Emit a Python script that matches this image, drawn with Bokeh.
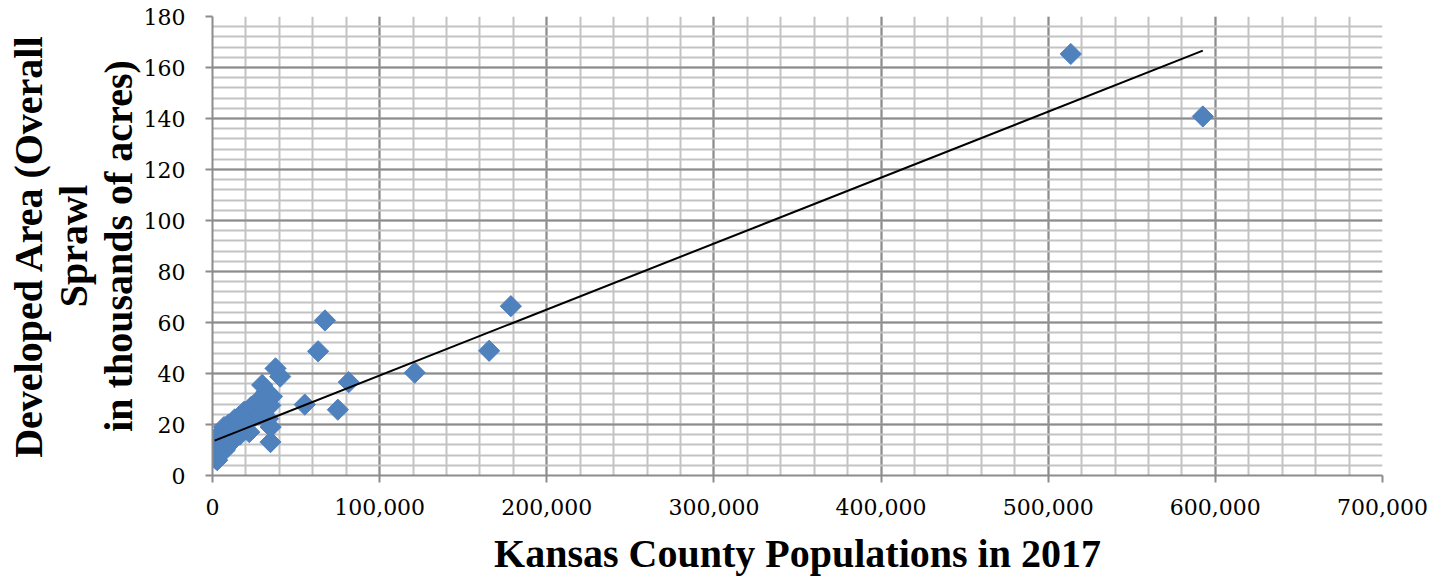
import numpy as np
from bokeh.plotting import figure
from bokeh.models import (Range1d, SingleIntervalTicker, NumeralTickFormatter,
                          ColumnDataSource)
from bokeh.embed import file_html
from bokeh.resources import INLINE

# Kansas counties: 2017 population and developed area (thousands of acres)
counties = [
    "Greeley", "Wallace", "Lane", "Comanche", "Hodgeman", "Clark", "Stanton", "Wichita",
    "Kiowa", "Graham", "Rawlins", "Sheridan", "Elk", "Hamilton", "Chase", "Gove",
    "Cheyenne", "Logan", "Morton", "Trego", "Decatur", "Edwards", "Jewell", "Ness",
    "Lincoln", "Rush", "Woodson", "Chautauqua", "Osborne", "Smith", "Kearny", "Haskell",
    "Meade", "Stafford", "Barber", "Republic", "Scott", "Rooks",
    "Phillips", "Morris", "Norton", "Washington", "Harper", "Stevens", "Ottawa", "Sherman",
    "Gray", "Greenwood", "Mitchell", "Ellsworth", "Pawnee", "Russell", "Wabaunsee", "Grant",
    "Kingman", "Doniphan", "Anderson", "Thomas",
    "Clay", "Coffey", "Wilson", "Cloud", "Brown", "Linn", "Pratt", "Rice", "Marshall",
    "Nemaha", "Marion", "Allen", "Jackson",
    "Bourbon", "Osage", "Neosho", "Atchison", "Dickinson", "Jefferson", "Cherokee", "Labette",
    "Seward", "Sumner", "Pottawatomie", "Franklin", "Barton",
    "Ellis", "McPherson", "Montgomery", "Geary", "Miami", "Lyon", "Harvey", "Ford",
    "Cowley", "Finney", "Crawford",
    "Saline", "Reno", "Butler", "Riley", "Leavenworth", "Douglas", "Wyandotte", "Shawnee",
    "Sedgwick", "Johnson",
]
population = [
    1250, 1500, 1600, 1800, 1850, 2000, 2000, 2100,
    2500, 2500, 2500, 2500, 2550, 2600, 2650, 2650,
    2700, 2800, 2800, 2800, 2850, 2900, 2900, 2900,
    3000, 3100, 3100, 3300, 3600, 3600, 3900, 4000,
    4200, 4200, 4700, 4700, 4900, 5000,
    5400, 5500, 5500, 5500, 5600, 5600, 5800, 5900,
    6000, 6100, 6200, 6300, 6700, 6900, 6900, 7400,
    7400, 7700, 7850, 7900,
    8100, 8200, 8700, 9000, 9600, 9600, 9600, 9800, 9900,
    10100, 12000, 12600, 13300,
    14700, 15900, 16100, 16400, 18900, 18900, 20200, 20200,
    22000, 23300, 24000, 25600, 26800,
    28700, 29700, 32500, 34700, 33000, 33300, 34600, 34800,
    35600, 37700, 40500,
    55200, 63200, 67300, 75000, 81500, 121000, 165500, 178500,
    513500, 592500,
]
developed_area = [
    7, 9, 8, 10, 9, 11, 7, 8,
    12, 13, 11, 12, 10, 9, 14, 11,
    10, 9, 6, 15, 11, 10, 12, 12,
    12, 11, 10, 9, 13, 15, 10, 9,
    12, 11, 14, 13, 10, 16,
    13, 17, 12, 14, 13, 11, 16, 12,
    11, 16, 13, 14, 12, 15, 19, 10,
    15, 12, 14, 13,
    11, 19, 12, 15, 16, 20, 12, 17, 16,
    13, 21, 14, 22,
    19, 23, 18, 16, 22, 25, 25, 20,
    17, 27, 23, 26, 29,
    24, 35.5, 33, 13.1, 30, 22.3, 27.5, 19,
    31, 42, 38.8,
    27.8, 48.7, 60.8, 25.8, 36.6, 40.3, 48.9, 66.4,
    165.3, 140.8,
]

x_ticks_interval = 100000
y_ticks_interval = 20

p = figure(width=1438, height=578, output_backend="svg", toolbar_location=None,
           x_range=Range1d(0, 700000), y_range=Range1d(0, 180),
           min_border_left=212, min_border_right=56, min_border_top=16, min_border_bottom=101)
p.outline_line_color = None
p.background_fill_color = "white"
p.border_fill_color = "white"

xt = SingleIntervalTicker(interval=x_ticks_interval, num_minor_ticks=5)
yt = SingleIntervalTicker(interval=y_ticks_interval, num_minor_ticks=5)
p.xaxis.ticker = xt
p.yaxis.ticker = yt
p.xgrid.ticker = xt
p.ygrid.ticker = yt
p.xaxis.formatter = NumeralTickFormatter(format="0,0")

for g in (p.xgrid, p.ygrid):
    g.grid_line_color = "#8c8c8c"
    g.grid_line_width = 2
    g.minor_grid_line_color = "#c3c3c3"
    g.minor_grid_line_width = 2
    g.level = "underlay"

title_font = "Liberation Serif"
for ax in (p.xaxis, p.yaxis):
    ax.axis_line_color = "#8c8c8c"
    ax.axis_line_width = 2
    ax.major_tick_line_color = "#8c8c8c"
    ax.major_tick_line_width = 2
    ax.major_tick_out = 7
    ax.major_tick_in = 0
    ax.minor_tick_out = 0
    ax.minor_tick_in = 0
    ax.major_label_text_font = "DejaVu Serif"
    ax.major_label_text_font_size = "22px"
    ax.major_label_text_color = "black"
    ax.axis_label_text_font = title_font
    ax.axis_label_text_font_style = "bold"
    ax.axis_label_text_color = "black"
p.xaxis.major_label_standoff = 16
p.yaxis.major_label_standoff = 20

p.xaxis.axis_label = "Kansas County Populations in 2017"
p.xaxis.axis_label_text_font_size = "40px"
p.xaxis.axis_label_standoff = 13
p.yaxis.axis_label = "Developed Area (Overall\nSprawl\nin thousands of acres)"
p.yaxis.axis_label_text_font_size = "40px"
p.yaxis.axis_label_standoff = 0
p.yaxis.axis_label_text_line_height = 1.0

src = ColumnDataSource(dict(county=counties, pop=population, area=developed_area))
p.scatter("pop", "area", source=src, marker="square", size=15, angle=np.pi / 4,
          fill_color="#4F81BD", line_color="#4F81BD", line_width=1)

# linear trendline (least squares) over the data range
slope, intercept = np.polyfit(np.array(population, float), np.array(developed_area, float), 1)
tx = np.array([min(population), max(population)], float)
p.line(tx, intercept + slope * tx, line_color="black", line_width=2)

open("out.html", "w").write(file_html(p, INLINE))
